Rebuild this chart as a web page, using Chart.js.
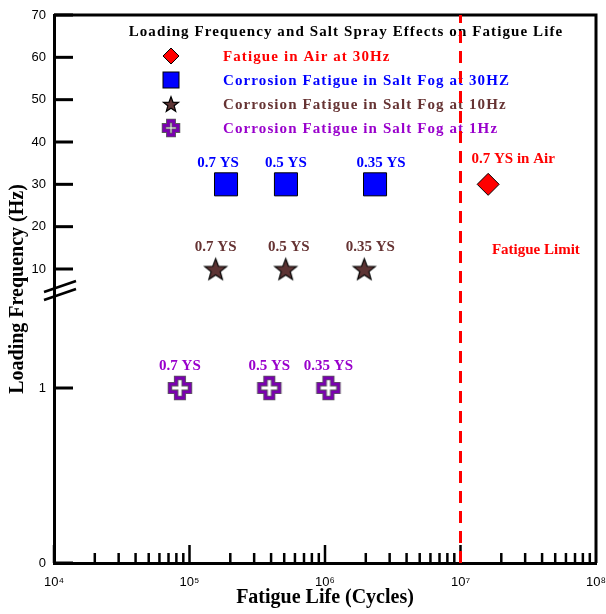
<!DOCTYPE html>
<html>
<head>
<meta charset="utf-8">
<script src="https://cdn.jsdelivr.net/npm/chart.js@4.4.0/dist/chart.umd.min.js"></script>
<style>
    html, body { margin: 0; padding: 0; background: #fff; overflow: hidden; }
    #wrap { width: 606px; height: 614px; position: relative; }
</style>
</head>
<body>
<div id="wrap"><canvas id="fatigueChart"></canvas></div>
<script>
// --- Data ---
const airCycles = [1.6e7];
const airFreq = [30];
const airLabels = ['0.7 YS in Air'];

const fog30Cycles = [1.86e5, 5.15e5, 2.34e6];
const fog30Freq = [30, 30, 30];
const fog30Labels = ['0.7 YS', '0.5 YS', '0.35 YS'];

const fog10Cycles = [1.56e5, 5.13e5, 1.95e6];
const fog10Freq = [10, 10, 10];
const fog10Labels = ['0.7 YS', '0.5 YS', '0.35 YS'];

const fog1Cycles = [8.5e4, 3.88e5, 1.06e6];
const fog1Freq = [1, 1, 1];
const fog1Labels = ['0.7 YS', '0.5 YS', '0.35 YS'];

const fatigueLimit = 1e7;
const limitLabelAt = [3.6e7, 14.5];

const xTicks = [1e4, 1e5, 1e6, 1e7, 1e8];
const xTickLabels = ['10\u2074', '10\u2075', '10\u2076', '10\u2077', '10\u2078'];
const yTicks = [0, 1, 10, 20, 30, 40, 50, 60, 70];

const legendNames = [
    'Fatigue in Air at 30Hz',
    'Corrosion Fatigue in Salt Fog at 30HZ',
    'Corrosion Fatigue in Salt Fog at 10Hz',
    'Corrosion Fatigue in Salt Fog at 1Hz'
];

const RED = '#FF0000', BLUE = '#0000FF', BROWN = '#663333', PURPLE = '#9900CC';
const SERIF = "'Liberation Serif', 'Times New Roman', serif";
const SANS = "'Liberation Sans', Arial, sans-serif";

// broken y axis: 0..1 on the lower part, 10..70 on the upper part
const LOW_UNIT = 175;
const UP_START = 294;
const UP_UNIT = 254 / 60;
function yPos(v) {
    return v <= 1 ? v * LOW_UNIT : UP_START + (v - 10) * UP_UNIT;
}
const BREAK_AT = 272;

function pts(xs, ys) {
    return xs.map((x, i) => ({ x: x, y: yPos(ys[i]) }));
}

// --- custom marker images ---
function starImage(outer, fill) {
    const inner = outer * 0.42;
    const c = document.createElement('canvas');
    c.width = c.height = Math.ceil(outer * 2 + 4);
    const g = c.getContext('2d');
    const cx = c.width / 2, cy = c.height / 2 + outer * 0.1;
    g.beginPath();
    for (let i = 0; i < 10; i++) {
        const r = i % 2 ? inner : outer;
        const a = -Math.PI / 2 + i * Math.PI / 5;
        g.lineTo(cx + r * Math.cos(a), cy + r * Math.sin(a));
    }
    g.closePath();
    g.fillStyle = fill;
    g.fill();
    g.lineWidth = 1.2;
    g.strokeStyle = '#000';
    g.stroke();
    return c;
}

function crossImage(half, arm) {
    const c = document.createElement('canvas');
    c.width = c.height = Math.ceil(half * 2 + 8);
    const g = c.getContext('2d');
    const cx = c.width / 2, cy = c.height / 2;
    g.beginPath();
    g.moveTo(cx - arm, cy - half);
    g.lineTo(cx + arm, cy - half);
    g.lineTo(cx + arm, cy - arm);
    g.lineTo(cx + half, cy - arm);
    g.lineTo(cx + half, cy + arm);
    g.lineTo(cx + arm, cy + arm);
    g.lineTo(cx + arm, cy + half);
    g.lineTo(cx - arm, cy + half);
    g.lineTo(cx - arm, cy + arm);
    g.lineTo(cx - half, cy + arm);
    g.lineTo(cx - half, cy - arm);
    g.lineTo(cx - arm, cy - arm);
    g.closePath();
    g.fillStyle = '#fff';
    g.fill();
    g.lineJoin = 'miter';
    g.strokeStyle = 'rgba(60,60,60,0.85)';
    g.lineWidth = 4.5;
    g.stroke();
    g.strokeStyle = '#7A00B0';
    g.lineWidth = 2.8;
    g.stroke();
    return c;
}

const starBig = starImage(11.5, '#5C3333');
const starSmall = starImage(8, '#5C3333');
const crossBig = crossImage(10, 3.8);
const crossSmall = crossImage(7, 2.7);

// --- plugins ---
const frame = {
    id: 'frame',
    beforeDatasetsDraw(chart) {
        const { ctx, chartArea: a, scales } = chart;
        const xs = scales.x, ys = scales.y;
        ctx.save();
        ctx.strokeStyle = '#000';
        ctx.lineCap = 'butt';

        // y ticks (inward)
        ctx.lineWidth = 3;
        yTicks.forEach(v => {
            const py = ys.getPixelForValue(yPos(v));
            ctx.beginPath();
            ctx.moveTo(a.left, py);
            ctx.lineTo(a.left + 19, py);
            ctx.stroke();
        });

        // x ticks, major and minor (inward)
        ctx.lineWidth = 2.5;
        for (let d = 4; d < 8; d++) {
            for (let m = 1; m <= 9; m++) {
                const px = xs.getPixelForValue(m * Math.pow(10, d));
                const len = m === 1 ? 18 : 10;
                ctx.beginPath();
                ctx.moveTo(px, a.bottom);
                ctx.lineTo(px, a.bottom - len);
                ctx.stroke();
            }
        }

        // top and right frame
        ctx.lineWidth = 3;
        ctx.beginPath();
        ctx.moveTo(a.left, a.top);
        ctx.lineTo(a.right, a.top);
        ctx.lineTo(a.right, a.bottom);
        ctx.stroke();

        // axis break marks
        const by = ys.getPixelForValue(BREAK_AT);
        ctx.lineWidth = 2.5;
        [-4, 4].forEach(off => {
            ctx.beginPath();
            ctx.moveTo(a.left - 10, by + off + 5);
            ctx.lineTo(a.left + 22, by + off - 6);
            ctx.stroke();
        });

        // legend block
        ctx.textBaseline = 'middle';
        ctx.textAlign = 'center';
        ctx.fillStyle = '#000';
        ctx.font = 'bold 15px ' + SERIF;
        ctx.letterSpacing = '1.1px';
        ctx.fillText('Loading Frequency and Salt Spray Effects on Fatigue Life', 346, 32);

        const mx = 171, tx = 223;
        const rows = [56, 80, 104, 128];
        const colors = [RED, BLUE, BROWN, PURPLE];

        // diamond
        ctx.lineWidth = 1;
        ctx.strokeStyle = '#000';
        ctx.fillStyle = RED;
        ctx.beginPath();
        ctx.moveTo(mx, rows[0] - 8);
        ctx.lineTo(mx + 8, rows[0]);
        ctx.lineTo(mx, rows[0] + 8);
        ctx.lineTo(mx - 8, rows[0]);
        ctx.closePath();
        ctx.fill();
        ctx.stroke();
        // square
        ctx.fillStyle = BLUE;
        ctx.fillRect(mx - 8, rows[1] - 8, 16, 16);
        ctx.strokeRect(mx - 8, rows[1] - 8, 16, 16);
        // star, cross
        ctx.drawImage(starSmall, mx - starSmall.width / 2, rows[2] - starSmall.height / 2);
        ctx.drawImage(crossSmall, mx - crossSmall.width / 2, rows[3] - crossSmall.height / 2);

        ctx.textAlign = 'left';
        legendNames.forEach((name, i) => {
            ctx.fillStyle = colors[i];
            ctx.fillText(name, tx, rows[i] + 1);
        });
        ctx.restore();
    }
};

const pointText = {
    id: 'pointText',
    afterDatasetsDraw(chart) {
        const { ctx, scales } = chart;
        ctx.save();
        ctx.font = 'bold 15px ' + SERIF;
        ctx.textAlign = 'center';
        ctx.textBaseline = 'middle';
        chart.data.datasets.forEach(ds => {
            if (!ds.pointText) return;
            ds.data.forEach((p, i) => {
                const px = scales.x.getPixelForValue(p.x);
                const py = scales.y.getPixelForValue(p.y);
                const shift = ds.textShift ? ds.textShift[i] : 0;
                ctx.fillStyle = ds.textColor;
                ctx.fillText(ds.pointText[i], px + shift, py - ds.textLift);
            });
        });
        ctx.fillStyle = RED;
        ctx.fillText('Fatigue Limit',
            scales.x.getPixelForValue(limitLabelAt[0]),
            scales.y.getPixelForValue(yPos(limitLabelAt[1])));
        ctx.restore();
    }
};

// --- chart ---
const ctx = document.getElementById('fatigueChart').getContext('2d');
new Chart(ctx, {
    type: 'scatter',
    data: {
        datasets: [{
            type: 'line',
            data: [{ x: fatigueLimit, y: yPos(0) }, { x: fatigueLimit, y: yPos(70) }],
            borderColor: RED,
            borderWidth: 3,
            borderDash: [12, 8],
            pointRadius: 0,
            order: 0
        }, {
            data: pts(airCycles, airFreq),
            pointStyle: 'rectRot',
            pointRadius: 11,
            backgroundColor: RED,
            borderColor: '#000',
            borderWidth: 1,
            pointText: airLabels,
            textColor: RED,
            textLift: 25,
            textShift: [25],
            order: 1
        }, {
            data: pts(fog30Cycles, fog30Freq),
            pointStyle: 'rect',
            pointRadius: 16.3,
            backgroundColor: BLUE,
            borderColor: '#000',
            borderWidth: 1,
            pointText: fog30Labels,
            textColor: BLUE,
            textLift: 21,
            textShift: [-8, 0, 6],
            order: 1
        }, {
            data: pts(fog10Cycles, fog10Freq),
            pointStyle: starBig,
            pointRadius: 12,
            pointText: fog10Labels,
            textColor: BROWN,
            textLift: 22,
            textShift: [0, 3, 6],
            order: 1
        }, {
            data: pts(fog1Cycles, fog1Freq),
            pointStyle: crossBig,
            pointRadius: 12,
            pointText: fog1Labels,
            textColor: PURPLE,
            textLift: 22,
            order: 1
        }]
    },
    options: {
        responsive: true,
        maintainAspectRatio: false,
        animation: false,
        devicePixelRatio: 1,
        layout: {
            autoPadding: false,
            padding: { left: 0, top: 15, right: 10, bottom: 0 }
        },
        plugins: {
            legend: { display: false },
            tooltip: { enabled: false }
        },
        scales: {
            x: {
                type: 'logarithmic',
                min: 1e4,
                max: 1e8,
                afterBuildTicks: function(scale) {
                    scale.ticks = xTicks.map(v => ({ value: v }));
                },
                afterFit: function(scale) {
                    scale.height = 51;
                    scale.paddingLeft = 0;
                    scale.paddingRight = 0;
                },
                grid: { display: false, drawTicks: false },
                border: { display: true, color: '#000', width: 3 },
                ticks: {
                    autoSkip: false,
                    maxRotation: 0,
                    padding: 12,
                    color: '#000',
                    font: { family: SANS, size: 13 },
                    callback: function(value, index) {
                        return xTickLabels[index];
                    }
                },
                title: {
                    display: true,
                    text: 'Fatigue Life (Cycles)',
                    color: '#000',
                    font: { family: SERIF, size: 20, weight: 'bold' },
                    padding: { top: 4, bottom: 4 }
                }
            },
            y: {
                type: 'linear',
                min: 0,
                max: yPos(70),
                afterBuildTicks: function(scale) {
                    scale.ticks = yTicks.map(v => ({ value: yPos(v) }));
                },
                afterFit: function(scale) {
                    scale.width = 54;
                    scale.paddingTop = 0;
                    scale.paddingBottom = 0;
                },
                grid: { display: false, drawTicks: false },
                border: { display: true, color: '#000', width: 3 },
                ticks: {
                    padding: 8,
                    color: '#000',
                    font: { family: SANS, size: 13 },
                    callback: function(value, index) {
                        return yTicks[index];
                    }
                },
                title: {
                    display: true,
                    text: 'Loading Frequency (Hz)',
                    color: '#000',
                    font: { family: SERIF, size: 20, weight: 'bold' },
                    padding: { top: 6, bottom: 6 }
                }
            }
        }
    },
    plugins: [frame, pointText]
});
</script>
</body>
</html>
